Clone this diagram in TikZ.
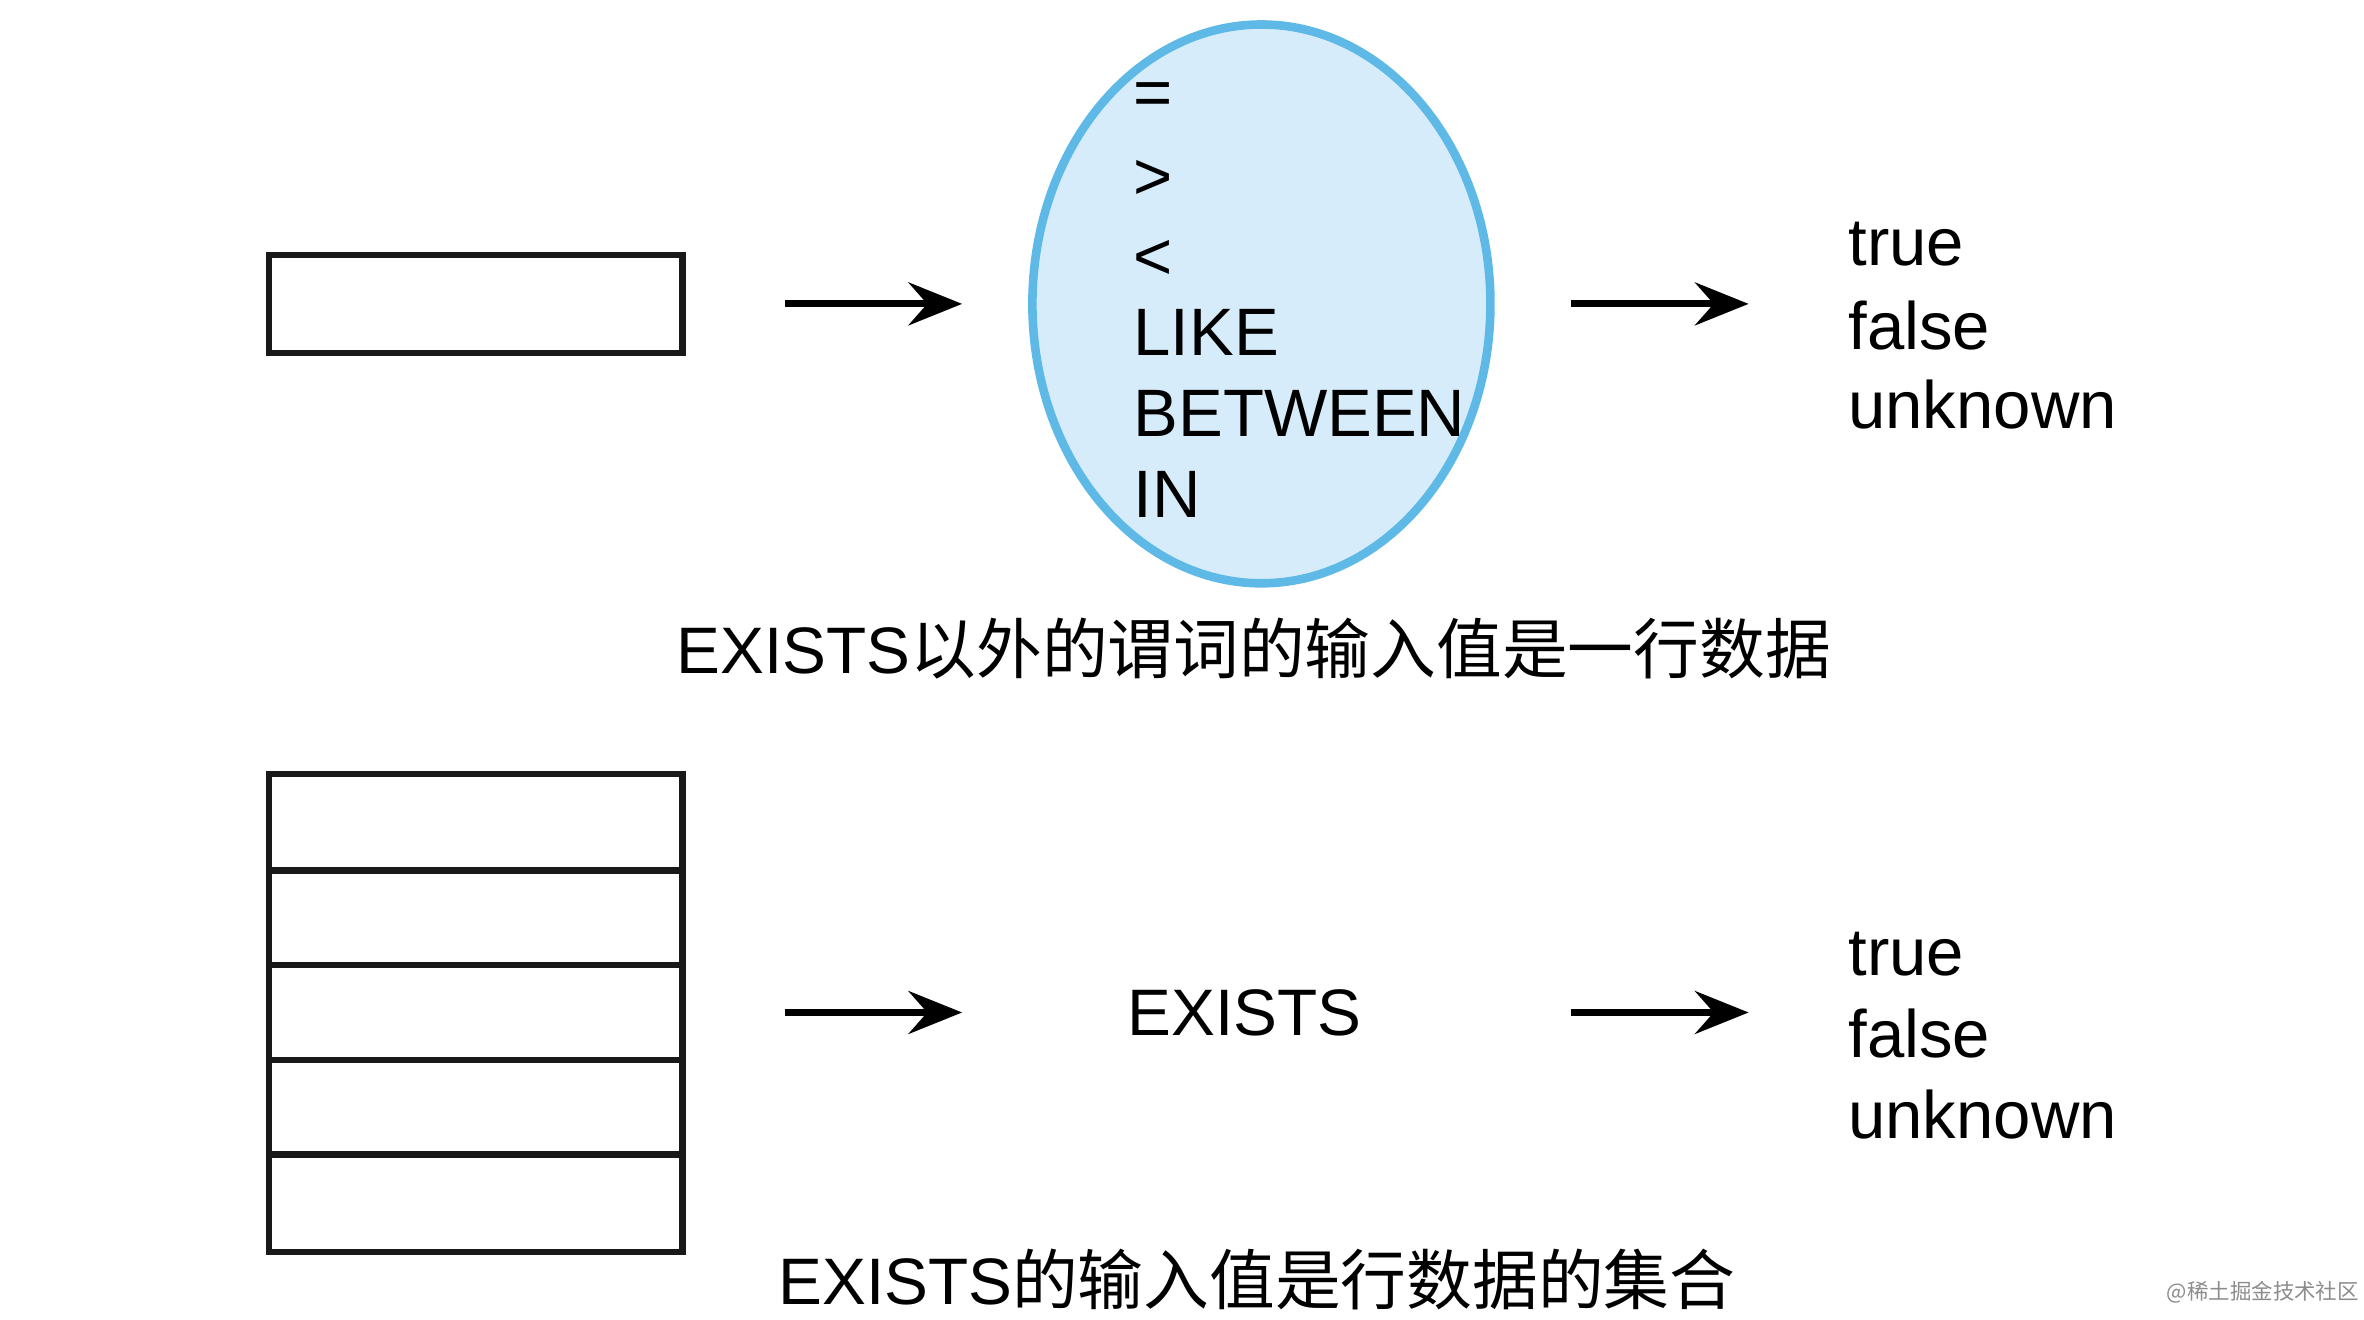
\documentclass[tikz,border=0pt]{standalone}
\usepackage{fontspec}
\setmainfont{Liberation Sans}
\newfontfamily\cjk{Noto Sans CJK SC}
\usetikzlibrary{arrows.meta,shapes.geometric}
\definecolor{ellfill}{RGB}{214,236,250}
\definecolor{elldraw}{RGB}{95,185,230}
\tikzset{
  box/.style={draw=black!90,line width=2.4pt},
  arr/.style={line width=2.6pt,-{Stealth[length=20pt,width=16pt,inset=7pt]}},
  lbl/.style={font=\fontsize{25}{28}\selectfont,anchor=west,inner sep=0pt},
  captext/.style={font=\fontsize{24.5}{28}\selectfont,inner sep=0pt},
}
\begin{document}
\begin{tikzpicture}[x=0.02cm,y=-0.02cm]
\useasboundingbox (0,0) rectangle (1548,864);
% top row
\draw[box] (176,167) rectangle (447,231);
\coordinate (a1s) at (514,199); \coordinate (a1e) at (630,199);
\draw[arr] (a1s) -- (a1e);
\node[ellipse,draw=elldraw,fill=ellfill,line width=3.2pt,minimum width=6cm,minimum height=7.32cm,inner sep=0pt] (ell) at (826,199) {};
\node[lbl] (o1) at (742,65) {=};
\node[lbl] (o2) at (742,118) {>};
\node[lbl] (o3) at (742,170) {<};
\node[lbl] (o4) at (742,218) {LIKE};
\node[lbl] (o5) at (742,271) {BETWEEN};
\node[lbl] (o6) at (742,324) {IN};
\coordinate (a2s) at (1029,199); \coordinate (a2e) at (1145,199);
\draw[arr] (a2s) -- (a2e);
\node[lbl] (t1) at (1210,160) {true};
\node[lbl] (f1) at (1210,213) {false};
\node[lbl] (u1) at (1210,265) {unknown};
\node[captext] (c1) at (821,425) {EXISTS{\cjk 以外的谓词的输入值是一行数据}};
% bottom row
\draw[box] (176,507) rectangle (447,820);
\foreach \yy in {570,632,694,756} \draw[box] (176,\yy) -- (447,\yy);
\coordinate (b1s) at (514,663); \coordinate (b1e) at (630,663);
\draw[arr] (b1s) -- (b1e);
\node[captext] (ex) at (815,663) {EXISTS};
\coordinate (b2s) at (1029,663); \coordinate (b2e) at (1145,663);
\draw[arr] (b2s) -- (b2e);
\node[lbl] (t2) at (1210,625) {true};
\node[lbl] (f2) at (1210,677) {false};
\node[lbl] (u2) at (1210,730) {unknown};
\node[captext] (c2) at (823,838) {EXISTS{\cjk 的输入值是行数据的集合}};
\node[font=\cjk\fontsize{8}{9}\selectfont,text=black!45,inner sep=0pt,anchor=east] (wm) at (1545,846) {@稀土掘金技术社区};
\end{tikzpicture}
\end{document}
